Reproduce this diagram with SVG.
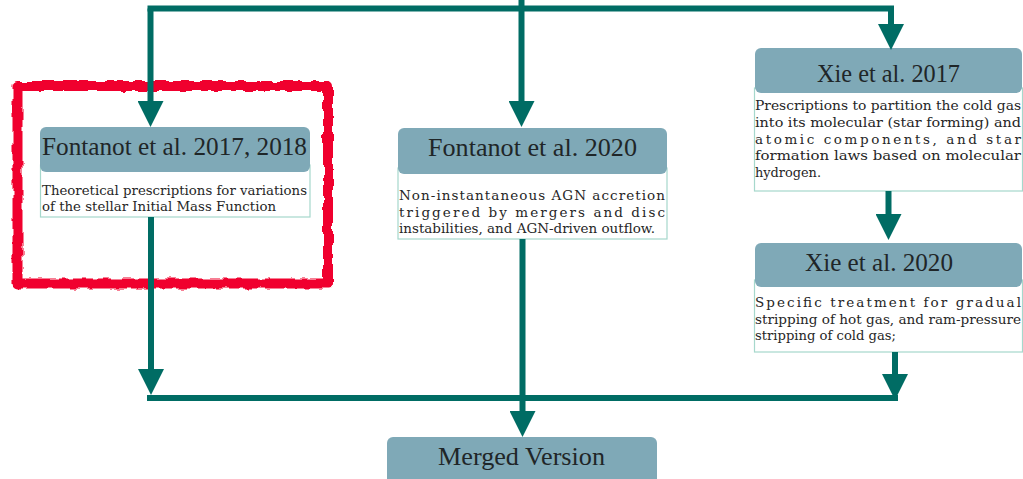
<svg xmlns="http://www.w3.org/2000/svg" width="1023" height="479" viewBox="0 0 1023 479">
<style>
.hdr{fill:#7fa9b7;}
.body{fill:#ffffff;stroke:#a6d8cc;stroke-width:1.2;}
.title{font-family:"Liberation Serif","Times New Roman",serif;font-size:25px;fill:#1f2628;text-anchor:middle;}
.txt{font-family:"DejaVu Serif","Liberation Serif",serif;font-size:13.5px;fill:#262626;}
.conn{fill:none;stroke:#006c64;stroke-width:6;stroke-linecap:butt;stroke-linejoin:miter;}
.annot{fill:none;stroke:#f0052d;stroke-width:10;stroke-linejoin:round;}
</style>
<defs>
<marker id="arr" viewBox="0 0 26 26" markerWidth="26" markerHeight="26" markerUnits="userSpaceOnUse" refX="4" refY="13" orient="auto">
<path d="M0,0 L26,13 L0,26 z" fill="#006c64"/>
</marker>
<filter id="rough" x="-5%" y="-5%" width="110%" height="110%">
<feTurbulence type="fractalNoise" baseFrequency="0.09" numOctaves="2" seed="4" result="n"/>
<feDisplacementMap in="SourceGraphic" in2="n" scale="6" xChannelSelector="R" yChannelSelector="G"/>
</filter>
</defs>
<rect width="1023" height="479" fill="#ffffff"/>

<g id="highlight">
<path class="annot" filter="url(#rough)" d="M17.5,86 L328,86 L328,283.5 L17.5,283.5 Z"/>
</g>

<g id="node-fontanot2017">
<rect class="body" x="40.5" y="165" width="269.5" height="52"/>
<rect class="hdr" x="40" y="127" width="270" height="45" rx="6"/>
<text class="title" x="174.5" y="155" textLength="265" lengthAdjust="spacingAndGlyphs">Fontanot et al. 2017, 2018</text>
<text class="txt" x="42" y="195" textLength="265" lengthAdjust="spacingAndGlyphs">Theoretical prescriptions for variations</text>
<text class="txt" x="42" y="211" textLength="234" lengthAdjust="spacingAndGlyphs">of the stellar Initial Mass Function</text>
</g>

<g id="node-fontanot2020">
<rect class="body" x="398" y="168" width="269" height="71"/>
<rect class="hdr" x="398" y="128" width="269" height="46" rx="6"/>
<text class="title" x="532.5" y="156" textLength="209" lengthAdjust="spacingAndGlyphs">Fontanot et al. 2020</text>
<text class="txt" x="399" y="200" textLength="266" lengthAdjust="spacing">Non-instantaneous AGN accretion</text>
<text class="txt" x="399" y="216.5" textLength="266" lengthAdjust="spacing">triggered by mergers and disc</text>
<text class="txt" x="399" y="233" textLength="256" lengthAdjust="spacingAndGlyphs">instabilities, and AGN-driven outflow.</text>
</g>

<g id="node-xie2017">
<rect class="body" x="754.5" y="88" width="268" height="103"/>
<rect class="hdr" x="755" y="48" width="267" height="45" rx="6"/>
<text class="title" x="888.5" y="82" textLength="143" lengthAdjust="spacingAndGlyphs">Xie et al. 2017</text>
<text class="txt" x="755" y="110" textLength="266" lengthAdjust="spacingAndGlyphs">Prescriptions to partition the cold gas</text>
<text class="txt" x="755" y="127" textLength="266" lengthAdjust="spacingAndGlyphs">into its molecular (star forming) and</text>
<text class="txt" x="755" y="143.5" textLength="266" lengthAdjust="spacing">atomic components, and star</text>
<text class="txt" x="755" y="160" textLength="266" lengthAdjust="spacingAndGlyphs">formation laws based on molecular</text>
<text class="txt" x="755" y="177" textLength="66" lengthAdjust="spacingAndGlyphs">hydrogen.</text>
</g>

<g id="node-xie2020">
<rect class="body" x="754.5" y="280" width="268" height="72"/>
<rect class="hdr" x="755" y="243" width="267" height="44" rx="6"/>
<text class="title" x="879" y="271" textLength="148" lengthAdjust="spacingAndGlyphs">Xie et al. 2020</text>
<text class="txt" x="755" y="307" textLength="266" lengthAdjust="spacing">Specific treatment for gradual</text>
<text class="txt" x="755" y="323.5" textLength="266" lengthAdjust="spacingAndGlyphs">stripping of hot gas, and ram-pressure</text>
<text class="txt" x="755" y="340" textLength="141" lengthAdjust="spacingAndGlyphs">stripping of cold gas;</text>
</g>

<g id="node-merged">
<rect class="hdr" x="387" y="437" width="270" height="52" rx="6"/>
<text class="title" x="521.5" y="465" textLength="167" lengthAdjust="spacingAndGlyphs">Merged Version</text>
</g>

<g id="connectors">
<path class="conn" d="M150.5,8.5 V105" marker-end="url(#arr)"/>
<path class="conn" d="M147.5,8.5 H891 V28" marker-end="url(#arr)"/>
<path class="conn" d="M521.5,0 V105" marker-end="url(#arr)"/>
<path class="conn" d="M888.5,191 V218" marker-end="url(#arr)"/>
<path class="conn" d="M151,217 V373" marker-end="url(#arr)"/>
<path class="conn" d="M895,352 V378" marker-end="url(#arr)"/>
<path class="conn" d="M147,398 H898"/>
<path class="conn" d="M522.5,239 V415" marker-end="url(#arr)"/>
</g>
</svg>
